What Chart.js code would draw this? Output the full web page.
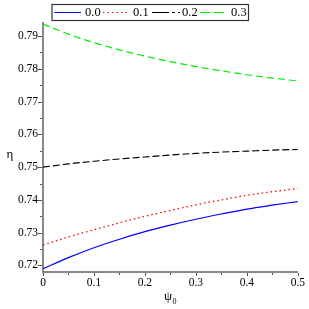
<!DOCTYPE html>
<html>
<head>
<meta charset="utf-8">
<script src="https://cdn.jsdelivr.net/npm/chart.js@4"></script>
<style>
  html, body { margin: 0; padding: 0; background: #fff; }
  #wrap { width: 309px; height: 309px; position: relative; }
</style>
</head>
<body>
<div id="wrap"><canvas id="myChart"></canvas></div>
<script>
const psi = [0, 0.05, 0.1, 0.15, 0.2, 0.25, 0.3, 0.35, 0.4, 0.45, 0.5];
const seriesNames = ['0.0', '0.1', '0.2', '0.3'];
const eta00 = [0.7190, 0.7224, 0.7254, 0.7280, 0.7303, 0.7323, 0.7341, 0.7357, 0.7372, 0.7384, 0.7395];
const eta01 = [0.7262, 0.7287, 0.7309, 0.7330, 0.7350, 0.7368, 0.7385, 0.7400, 0.7414, 0.7425, 0.7435];
const eta02 = [0.7500, 0.7510, 0.7518, 0.7525, 0.7531, 0.7537, 0.7542, 0.7546, 0.7549, 0.7552, 0.7554];
const eta03 = [0.7937, 0.7906, 0.7880, 0.7858, 0.7839, 0.7822, 0.7807, 0.7794, 0.7782, 0.7772, 0.7763];
const xTicks = [0, 0.1, 0.2, 0.3, 0.4, 0.5];
const yTicks = [0.72, 0.73, 0.74, 0.75, 0.76, 0.77, 0.78, 0.79];

const serif = '"Liberation Serif", "Times New Roman", Times, serif';

function pts(arr) {
    return arr.map((v, i) => ({ x: psi[i], y: v }));
}

// small tick marks, axis titles and the boxed legend
const extras = {
    id: 'extras',
    afterDraw(chart) {
        const c = chart.ctx;
        const xs = chart.scales.x, ys = chart.scales.y;
        const a = chart.chartArea;
        c.save();
        c.strokeStyle = '#555';
        c.lineWidth = 1;
        c.beginPath();
        for (let i = 0; i <= 14; i++) {
            const v = 0.72 + i * 0.005;
            const py = Math.round(ys.getPixelForValue(v)) + 0.5;
            const len = i % 2 === 0 ? 4 : 2;
            c.moveTo(a.left - 1 - len, py);
            c.lineTo(a.left - 1, py);
        }
        for (let i = 0; i <= 10; i++) {
            const px = Math.round(xs.getPixelForValue(i * 0.05)) + 0.5;
            const len = i % 2 === 0 ? 3 : 2;
            c.moveTo(px, a.bottom + 1);
            c.lineTo(px, a.bottom + 1 + len);
        }
        c.stroke();

        // axis titles
        c.fillStyle = '#000';
        c.textAlign = 'center';
        c.textBaseline = 'alphabetic';
        c.font = '13px ' + serif;
        c.fillText('η', 10, 158);
        c.fillText('ψ', 168, 300);
        c.font = '8px ' + serif;
        c.fillText('0', 174.5, 304);

        // legend
        const box = { x: 52, y: 4.5, w: 196.5, h: 16 };
        c.strokeStyle = '#333';
        c.lineWidth = 1.2;
        c.strokeRect(box.x, box.y, box.w, box.h);
        const items = [
            { x0: 54.5, x1: 81, tx: 85 },
            { x0: 103, x1: 128.5, tx: 133 },
            { x0: 152, x1: 180, tx: 182 },
            { x0: 200, x1: 227.5, tx: 231 }
        ];
        c.font = '12.5px ' + serif;
        c.textAlign = 'left';
        c.textBaseline = 'middle';
        chart.data.datasets.forEach((ds, i) => {
            const it = items[i];
            const my = box.y + box.h / 2;
            c.strokeStyle = ds.borderColor;
            c.lineWidth = 1;
            c.setLineDash(ds.legendDash || []);
            c.beginPath();
            c.moveTo(it.x0, my);
            c.lineTo(it.x1, my);
            c.stroke();
            c.setLineDash([]);
            c.fillStyle = '#000';
            c.fillText(ds.label, it.tx, my + 0.5);
        });
        c.restore();
    }
};

const ctx = document.getElementById('myChart').getContext('2d');

new Chart(ctx, {
    type: 'line',
    data: {
        datasets: [
            {
                label: seriesNames[0],
                data: pts(eta00),
                borderColor: '#0000ff',
                borderWidth: 1.2,
                legendDash: []
            },
            {
                label: seriesNames[1],
                data: pts(eta01),
                borderColor: '#ff0000',
                borderWidth: 1.3,
                borderDash: [1.5, 3],
                legendDash: [1.5, 3]
            },
            {
                label: seriesNames[2],
                data: pts(eta02),
                borderColor: '#000000',
                borderWidth: 1.1,
                borderDash: [7, 3],
                legendDash: [17, 3, 3, 3]
            },
            {
                label: seriesNames[3],
                data: pts(eta03),
                borderColor: '#00ee00',
                borderWidth: 1.2,
                borderDash: [7, 4],
                legendDash: [10, 4]
            }
        ]
    },
    options: {
        responsive: true,
        maintainAspectRatio: false,
        animation: false,
        devicePixelRatio: 1,
        layout: {
            padding: { top: 23, right: 11, bottom: 0, left: 0 }
        },
        elements: {
            point: { radius: 0 },
            line: { cubicInterpolationMode: 'monotone' }
        },
        scales: {
            x: {
                type: 'linear',
                min: 0,
                max: 0.5,
                afterFit(scale) { scale.height = 37; },
                afterBuildTicks(scale) { scale.ticks = xTicks.map(v => ({ value: v })); },
                ticks: {
                    padding: 4,
                    color: '#000',
                    font: { family: serif, size: 11.5 },
                    callback: v => v === 0 ? '0' : v.toFixed(1)
                },
                grid: { display: false, drawTicks: false },
                border: { display: true, color: '#888', width: 2 }
            },
            y: {
                type: 'linear',
                min: 0.718,
                max: 0.794,
                afterFit(scale) { scale.width = 43; },
                afterBuildTicks(scale) { scale.ticks = yTicks.map(v => ({ value: v })); },
                ticks: {
                    padding: 5,
                    color: '#000',
                    font: { family: serif, size: 11.5 },
                    callback: v => v.toFixed(2)
                },
                grid: { display: false, drawTicks: false },
                border: { display: true, color: '#888', width: 2 }
            }
        },
        plugins: {
            legend: { display: false },
            tooltip: { enabled: false }
        }
    },
    plugins: [extras]
});
</script>
</body>
</html>
